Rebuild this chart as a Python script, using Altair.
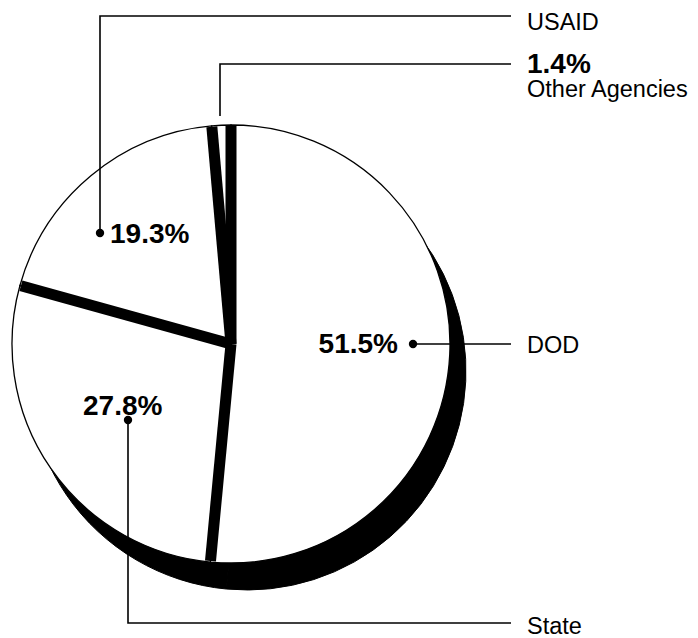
import math
import pandas as pd
import altair as alt

# ---- data ----
categories = ["DOD", "State", "USAID", "Other Agencies"]
shares = [51.5, 27.8, 19.3, 1.4]

# ---- layout (plot-area pixels) ----
W, H = 682, 630
CX, CY, R = 223, 336, 219          # pie centre and radius
SHADOW_DX, SHADOW_DY = 16, 27      # offset of the black shadow
BAND = 11                           # width of the black gaps between slices
FONT = "Liberation Sans"

xs = alt.Scale(domain=[0, W], range=[0, W])
ys = alt.Scale(domain=[0, H], range=[0, H])

slices = pd.DataFrame({"category": categories, "share": shares,
                       "idx": list(range(len(categories)))})

# slice boundaries (clockwise from 12 o'clock) derived from the shares
total = sum(shares)
rows, cum = [], 0.0
for s in shares:
    a = cum / total * 2 * math.pi
    L = R - 1
    rows.append({"x": CX, "y": CY, "x2": CX + L * math.sin(a), "y2": CY - L * math.cos(a)})
    cum += s
bands = pd.DataFrame(rows)

shadow = alt.Chart(slices).mark_arc(radius=R, color="black", stroke="black", strokeWidth=1).encode(
    theta=alt.Theta("share:Q", stack=True),
    order=alt.Order("idx:Q"),
    x=alt.value(CX + SHADOW_DX),
    y=alt.value(CY + SHADOW_DY),
)

pie = alt.Chart(slices).mark_arc(radius=R, color="white", stroke="black", strokeWidth=1.3).encode(
    theta=alt.Theta("share:Q", stack=True),
    order=alt.Order("idx:Q"),
    x=alt.value(CX),
    y=alt.value(CY),
)

gaps = alt.Chart(bands).mark_rule(color="black", strokeWidth=BAND, strokeCap="butt").encode(
    x=alt.X("x:Q", scale=xs, axis=None),
    y=alt.Y("y:Q", scale=ys, axis=None),
    x2="x2:Q",
    y2="y2:Q",
)

# ---- annotations ----
leader_pts = pd.DataFrame([
    {"leader": "USAID", "step": 0, "x": 92, "y": 225},
    {"leader": "USAID", "step": 1, "x": 92, "y": 8},
    {"leader": "USAID", "step": 2, "x": 503, "y": 8},
    {"leader": "Other", "step": 0, "x": 212, "y": 108},
    {"leader": "Other", "step": 1, "x": 212, "y": 56},
    {"leader": "Other", "step": 2, "x": 503, "y": 56},
    {"leader": "DOD", "step": 0, "x": 405, "y": 336},
    {"leader": "DOD", "step": 1, "x": 503, "y": 336},
    {"leader": "State", "step": 0, "x": 120, "y": 412},
    {"leader": "State", "step": 1, "x": 120, "y": 615},
    {"leader": "State", "step": 2, "x": 503, "y": 615},
])
leaders = alt.Chart(leader_pts).mark_line(color="black", strokeWidth=1.6, strokeCap="butt").encode(
    x=alt.X("x:Q", scale=xs, axis=None),
    y=alt.Y("y:Q", scale=ys, axis=None),
    detail="leader:N",
    order=alt.Order("step:Q"),
)

dot_pts = pd.DataFrame([{"x": 92, "y": 225}, {"x": 405, "y": 336}, {"x": 120, "y": 412}])
dots = alt.Chart(dot_pts).mark_circle(color="black", opacity=1, size=70).encode(
    x=alt.X("x:Q", scale=xs, axis=None),
    y=alt.Y("y:Q", scale=ys, axis=None),
)

pct = [f"{v}%" for v in shares]
bold_left = pd.DataFrame([
    {"text": pct[2], "x": 102, "y": 235},
    {"text": pct[1], "x": 75, "y": 407},
    {"text": pct[3], "x": 519, "y": 65},
])
bold_right = pd.DataFrame([{"text": pct[0], "x": 390, "y": 345}])
names = pd.DataFrame([
    {"text": categories[2], "x": 519, "y": 21.5},
    {"text": categories[3], "x": 519, "y": 89},
    {"text": categories[0], "x": 519, "y": 345},
    {"text": categories[1], "x": 519, "y": 626},
])

def text_layer(df, size, weight, align):
    return alt.Chart(df).mark_text(font=FONT, fontSize=size, fontWeight=weight, align=align,
                                   baseline="alphabetic", color="black").encode(
        x=alt.X("x:Q", scale=xs, axis=None),
        y=alt.Y("y:Q", scale=ys, axis=None),
        text="text:N",
    )

chart = alt.layer(
    shadow, pie, gaps, leaders, dots,
    text_layer(bold_left, 28, "bold", "left"),
    text_layer(bold_right, 28, "bold", "right"),
    text_layer(names, 23.5, "normal", "left"),
).properties(
    width=W, height=H, autosize="none", padding=0, background="white"
).configure_view(stroke=None)

chart.save("out.html", embed_options={"renderer": "svg", "actions": False})
